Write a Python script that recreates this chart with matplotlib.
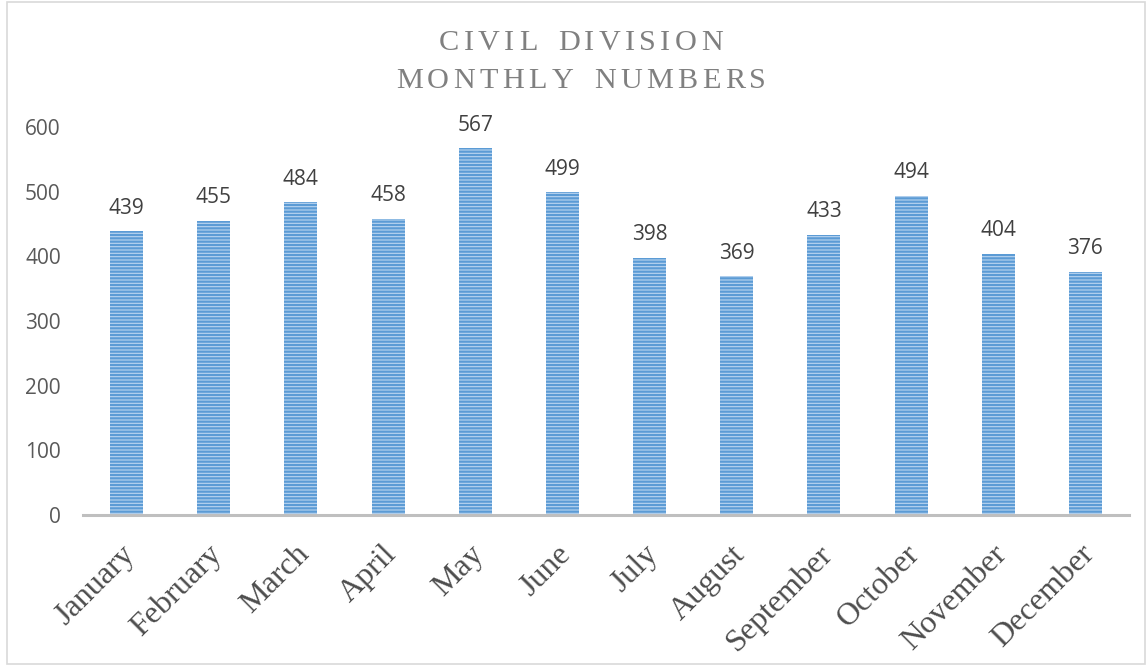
import numpy as np
import matplotlib
matplotlib.use("Agg")
import matplotlib.pyplot as plt
import matplotlib.patches as patches
import matplotlib.transforms as mtrans
from matplotlib import font_manager, ft2font

months = ["January", "February", "March", "April", "May", "June", "July",
          "August", "September", "October", "November", "December"]
counts = [439, 455, 484, 458, 567, 499, 398, 369, 433, 494, 404, 376]
yticks = [0, 100, 200, 300, 400, 500, 600]
title_lines = ["CIVIL DIVISION", "MONTHLY NUMBERS"]

W, H, DPI = 1147, 665, 100
plt.rcParams['hatch.linewidth'] = 1.6

fig = plt.figure(figsize=(W / DPI, H / DPI), dpi=DPI)
fig.patch.set_facecolor("white")
ax = fig.add_axes([83 / W, 1 - 515 / H, (1129 - 83) / W, (515 - 127) / H])

x = np.arange(len(months))
bars = ax.bar(x, counts, width=0.38, color="#bad5f0", edgecolor="#5b9bd5",
              linewidth=0, hatch="-----", zorder=2)
ax.bar_label(bars, labels=[str(c) for c in counts], padding=9,
             fontsize=15, family="Open Sans", color="#404040")

ax.set_xlim(-0.5, len(months) - 0.5)
ax.set_ylim(0, 600)
ax.set_yticks(yticks)
ax.set_yticklabels([str(v) for v in yticks], family="Open Sans", fontsize=15, color="#595959")
ax.tick_params(axis="y", length=0, pad=16)
ax.set_xticks(x)
ax.set_xticklabels(months, family="Liberation Serif", fontsize=23, color="#4d4d4d",
                   rotation=45, ha="right", va="center", rotation_mode="anchor")
ax.tick_params(axis="x", length=0, pad=0)
# shift rotated labels so their upper right end sits just right of the bar
off = mtrans.ScaledTranslation(4 / DPI, -35 / DPI, fig.dpi_scale_trans)
for lab in ax.get_xticklabels():
    lab.set_transform(lab.get_transform() + off)

for s in ["top", "right", "left"]:
    ax.spines[s].set_visible(False)
ax.spines["bottom"].set_color("#bfbfbf")
ax.spines["bottom"].set_linewidth(2.2)
ax.spines["bottom"].set_zorder(3)

# title with letter spacing, drawn char by char
tsize = 21.8
fp = font_manager.FontProperties(family="Liberation Serif")
font = ft2font.FT2Font(font_manager.findfont(fp))
font.set_size(tsize, DPI)
track = 4.4
cx = 581
for line, base in zip(title_lines, [50, 88]):
    advs = []
    for c in line:
        a = font.load_char(ord(c)).linearHoriAdvance / 65536
        if c == " ":
            a += 4
        advs.append(a)
    total = sum(advs) + track * (len(line) - 1)
    px = cx - total / 2
    for c, a in zip(line, advs):
        fig.text(px / W, 1 - base / H, c, family="Liberation Serif", fontsize=tsize,
                 color="#808080", ha="left", va="baseline")
        px += a + track

fig.patches.append(patches.Rectangle((7 / W, 1 - 664 / H), (1145 - 7) / W, (663 - 1) / H,
                                     transform=fig.transFigure, fill=False,
                                     edgecolor="#d9d9d9", linewidth=1.2))

fig.savefig("out.png", dpi=DPI)
